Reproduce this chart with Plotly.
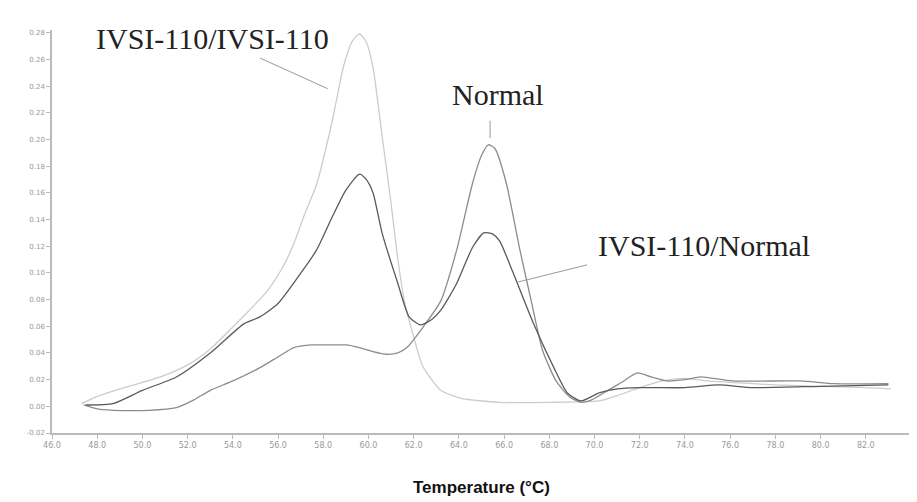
import plotly.graph_objects as go

# ---- data ----
t_homo = [47.3, 47.8, 49.0, 50.8, 52.0, 53.0, 54.5, 55.5, 56.2, 56.7, 57.2, 57.7, 58.4, 58.9, 59.3, 59.6,
          59.9, 60.2, 60.6, 61.0, 61.3, 61.6, 62.0, 62.4, 63.2, 64.1, 65.8, 68.0, 70.2, 71.0, 72.0, 73.0,
          74.0, 75.0, 76.0, 78.0, 80.0, 82.0, 83.1]
v_homo = [0.002, 0.006, 0.013, 0.022, 0.031, 0.043, 0.068, 0.086, 0.104, 0.122, 0.145, 0.166, 0.214, 0.255,
          0.274, 0.279, 0.273, 0.254, 0.203, 0.152, 0.110, 0.078, 0.052, 0.030, 0.012, 0.006, 0.003, 0.003,
          0.004, 0.008, 0.014, 0.019, 0.021, 0.019, 0.018, 0.016, 0.015, 0.014, 0.013]

t_norm = [47.4, 48.0, 48.7, 50.3, 51.5, 52.3, 53.0, 54.0, 55.2, 56.0, 56.7, 57.5, 58.2, 59.0, 59.6, 60.2,
          60.8, 61.3, 61.7, 62.0, 62.4, 63.2, 63.9, 64.6, 65.0, 65.3, 65.6, 66.1, 66.7, 67.2, 67.7, 68.3,
          68.9, 69.4, 69.9, 70.4, 71.2, 71.9, 72.5, 73.2, 74.0, 74.7, 76.1, 79.1, 80.6, 83.0]
v_norm = [0.001, -0.002, -0.003, -0.003, -0.001, 0.005, 0.012, 0.019, 0.029, 0.037, 0.044, 0.046, 0.046,
          0.046, 0.044, 0.041, 0.039, 0.040, 0.044, 0.050, 0.059, 0.079, 0.117, 0.167, 0.188, 0.196, 0.193,
          0.167, 0.117, 0.079, 0.042, 0.019, 0.007, 0.003, 0.005, 0.010, 0.018, 0.025, 0.022, 0.019, 0.020,
          0.022, 0.019, 0.019, 0.017, 0.017]

t_het = [47.5, 48.7, 50.0, 51.5, 53.0, 54.5, 55.2, 56.0, 57.1, 57.7, 58.4, 59.0, 59.6, 59.9, 60.2, 60.6,
         61.3, 61.8, 62.3, 62.8, 63.2, 63.9, 64.6, 65.1, 65.5, 65.8, 66.4, 67.3, 68.2, 68.8, 69.4, 70.2,
         71.0, 72.0, 74.0, 75.5, 77.0, 80.0, 83.0]
v_het = [0.001, 0.002, 0.012, 0.022, 0.040, 0.062, 0.067, 0.077, 0.102, 0.117, 0.142, 0.162, 0.174, 0.170,
         0.160, 0.130, 0.092, 0.067, 0.061, 0.065, 0.072, 0.092, 0.119, 0.130, 0.129, 0.124, 0.100, 0.062,
         0.029, 0.010, 0.004, 0.010, 0.013, 0.014, 0.014, 0.016, 0.014, 0.015, 0.016]

x_ticks = [46 + 2 * i for i in range(20)]
y_ticks = [-0.02 + 0.02 * i for i in range(16)]

labels = ["IVSI-110/IVSI-110", "Normal", "IVSI-110/Normal"]
label_pos = [(53.08, 0.2753), (65.71, 0.2333), (74.83, 0.1205)]
pointers = [((55.2, 0.261), (58.2, 0.238)), ((65.38, 0.214), (65.38, 0.201)), ((69.67, 0.106), (66.58, 0.093))]

fig = go.Figure()
fig.add_trace(go.Scatter(x=t_homo, y=v_homo, mode="lines", line=dict(color="#cccccc", width=1.3, shape="spline", smoothing=0.6)))
fig.add_trace(go.Scatter(x=t_norm, y=v_norm, mode="lines", line=dict(color="#8c8c8c", width=1.3, shape="spline", smoothing=0.6)))
fig.add_trace(go.Scatter(x=t_het, y=v_het, mode="lines", line=dict(color="#5a5a5a", width=1.3, shape="spline", smoothing=0.6)))

for txt, (lx, ly) in zip(labels, label_pos):
    fig.add_annotation(x=lx, y=ly, text=txt, showarrow=False, xanchor="center", yanchor="middle",
                       font=dict(family="Liberation Serif", size=30, color="#222222"))
for (p0, p1) in pointers:
    fig.add_shape(type="line", x0=p0[0], y0=p0[1], x1=p1[0], y1=p1[1], xref="x", yref="y",
                  line=dict(color="#999999", width=1))

fig.add_annotation(x=0.5, y=-0.134, xref="paper", yref="paper", text="<b>Temperature (°C)</b>",
                   showarrow=False, xanchor="center", yanchor="middle",
                   font=dict(family="Liberation Sans", size=17, color="#111111"))

fig.update_layout(
    width=909, height=494, showlegend=False,
    plot_bgcolor="white", paper_bgcolor="white",
    margin=dict(l=44, r=6, t=22, b=69),
    xaxis=dict(range=[46, 84], tickvals=x_ticks, ticktext=[f"{v:.1f}" for v in x_ticks],
               showgrid=False, zeroline=False, showline=True, linecolor="#bbbbbb", linewidth=1.5,
               ticks="outside", ticklen=4, tickcolor="#bbbbbb",
               tickfont=dict(family="DejaVu Sans", size=8, color="#999999")),
    yaxis=dict(range=[-0.02, 0.282], tickvals=y_ticks, ticktext=[f"{v:.2f}" for v in y_ticks],
               showgrid=False, zeroline=False, showline=True, linecolor="#bbbbbb", linewidth=1.5,
               ticks="outside", ticklen=4, tickcolor="#bbbbbb",
               tickfont=dict(family="DejaVu Sans", size=7, color="#999999")),
)

fig.write_html("out.html")
